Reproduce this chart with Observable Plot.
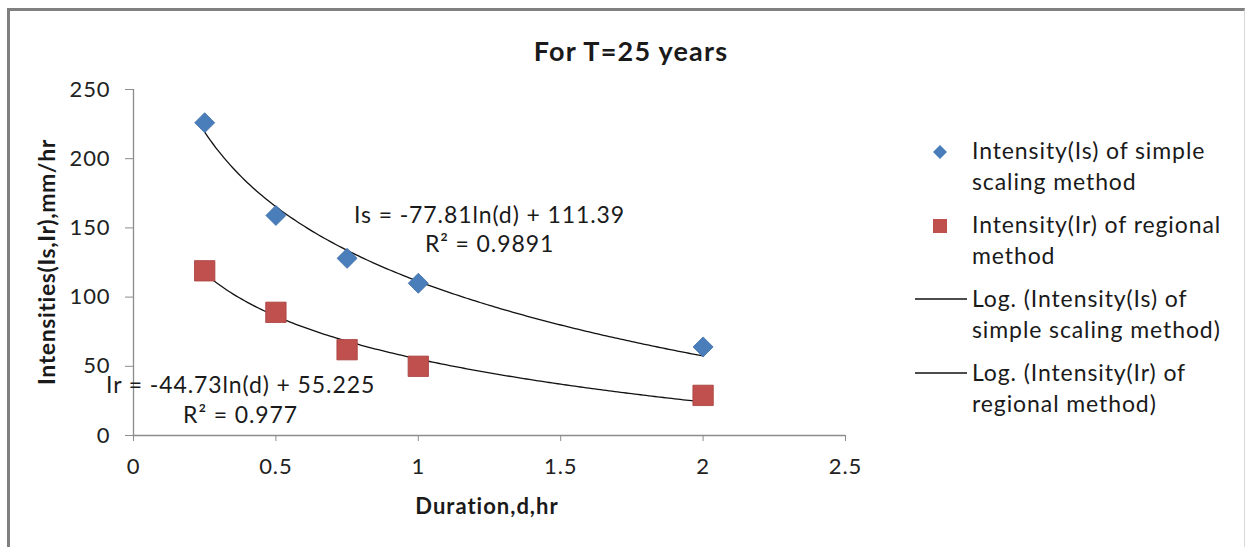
<!DOCTYPE html>
<html>
<head>
<meta charset="utf-8">
<script src="https://cdn.jsdelivr.net/npm/d3@7"></script>
<script src="https://cdn.jsdelivr.net/npm/@observablehq/plot@0.6"></script>
<style>
  html, body { margin: 0; padding: 0; background: #fff; }
  #wrap { position: relative; width: 1255px; height: 547px; overflow: hidden; font-family: Lato, "Open Sans", sans-serif; color: #1a1a1a; }
  #wrap svg.plot { position: absolute; left: 0; top: 0; }
  #wrap svg.plot text { letter-spacing: 0.9px; }
  .frame { position: absolute; left: 7px; top: 8px; width: 1238px; height: 560px; border-left: 3px solid #808080; border-top: 3px solid #808080; border-right: 1px solid #d8d8d8; box-sizing: border-box; }
  .title { position: absolute; left: 0; width: 1262px; top: 34px; text-align: center; font-weight: bold; font-size: 27px; letter-spacing: 1.2px; }
  .ylabel { position: absolute; left: 46px; top: 262px; transform: translate(-50%, -50%) rotate(-90deg); white-space: nowrap; font-weight: bold; font-size: 23px; letter-spacing: 0.6px; }
  .xlabel { position: absolute; left: 487px; top: 505px; transform: translate(-50%, -50%); white-space: nowrap; font-weight: bold; font-size: 22px; letter-spacing: 1px; }
  .legend { position: absolute; left: 905px; top: 135px; font-size: 23px; line-height: 31px; letter-spacing: 0.9px; }
  .legend .item { position: relative; padding-left: 67px; margin-bottom: 12px; white-space: nowrap; }
  .legend .key { position: absolute; left: 0; width: 62px; height: 31px; top: 0; }
  .legend .key svg { display: block; }
</style>
</head>
<body>
<div id="wrap">
  <div class="frame"></div>
  <div class="title">For T=25 years</div>
  <div class="ylabel">Intensities(Is,Ir),mm/hr</div>
  <div class="xlabel">Duration,d,hr</div>
  <div class="legend" id="legend"></div>
</div>
<script>
// Rainfall intensity vs. duration, return period T = 25 years
const durations = [0.25, 0.5, 0.75, 1, 2];
const intensitySimple = [226, 159, 128, 110, 64];   // Is, simple scaling method
const intensityRegional = [119, 89, 62, 50, 29];    // Ir, regional method

// Logarithmic trendlines  I = a·ln(d) + b
const fitSimple = {a: -77.81, b: 111.39, r2: "0.9891", b_text: "111.39"};
const fitRegional = {a: -44.73, b: 55.225, r2: "0.977", b_text: "55.225"};

const xTicks = [0, 0.5, 1, 1.5, 2, 2.5];
const yTicks = [0, 50, 100, 150, 200, 250];

const seriesNames = [
  "Intensity(Is) of simple scaling method",
  "Intensity(Ir) of regional method",
  "Log. (Intensity(Is) of simple scaling method)",
  "Log. (Intensity(Ir) of regional method)"
];
const legendLines = [
  ["Intensity(Is) of simple", "scaling method"],
  ["Intensity(Ir) of regional", "method"],
  ["Log. (Intensity(Is) of", "simple scaling method)"],
  ["Log. (Intensity(Ir) of", "regional method)"]
];

const blue = "#4a7ebb";
const red = "#c0504d";

// Excel-style diamond: a square turned 45°, sized by area like Plot's symbols
const excelDiamond = {
  draw(context, size) {
    const s = Math.sqrt(size / 2);
    context.moveTo(0, -s);
    context.lineTo(s, 0);
    context.lineTo(0, s);
    context.lineTo(-s, 0);
    context.closePath();
  }
};

const pointsSimple = durations.map((d, i) => ({d, v: intensitySimple[i]}));
const pointsRegional = durations.map((d, i) => ({d, v: intensityRegional[i]}));

// Trendline curves evaluated from the fitted equations over the data range
const dMin = d3.min(durations), dMax = d3.max(durations);
const curveX = d3.range(0, 176).map(k => dMin + (dMax - dMin) * k / 175);
const trend = fit => curveX.map(d => ({d, v: fit.a * Math.log(d) + fit.b}));

const eqText = (name, fit) =>
  `${name} = ${fit.a}ln(d) + ${fit.b_text}\nR² = ${fit.r2}`;

const chart = Plot.plot({
  width: 1255,
  height: 547,
  marginLeft: 133,
  marginRight: 410,
  marginTop: 89,
  marginBottom: 112,
  style: {fontFamily: "Lato, 'Open Sans', sans-serif", fontSize: "22px", color: "#1a1a1a", background: "transparent"},
  x: {domain: [0, 2.5]},
  y: {domain: [0, 250]},
  marks: [
    Plot.ruleY([0], {stroke: "#8c8c8c", strokeWidth: 1.3}),
    Plot.ruleX([0], {stroke: "#8c8c8c", strokeWidth: 1.3}),
    Plot.axisX({ticks: xTicks, tickSize: 6, tickPadding: 17, stroke: "#8c8c8c", fill: "#222", label: null, tickFormat: d => String(d)}),
    Plot.axisY({ticks: yTicks, tickSize: 8, tickPadding: 15, stroke: "#8c8c8c", fill: "#222", label: null}),
    Plot.line(trend(fitSimple), {x: "d", y: "v", stroke: "#111", strokeWidth: 1.3}),
    Plot.line(trend(fitRegional), {x: "d", y: "v", stroke: "#111", strokeWidth: 1.3}),
    Plot.dot(pointsSimple, {x: "d", y: "v", symbol: excelDiamond, r: 8, fill: blue, stroke: "#3f6fa8", strokeWidth: 0.8}),
    Plot.dot(pointsRegional, {x: "d", y: "v", symbol: "square", r: 11.5, fill: red, stroke: "#a8403d", strokeWidth: 0.8}),
    Plot.text([eqText("Is", fitSimple)], {x: 1.25, y: 150, text: d => d, textAnchor: "middle", lineHeight: 1.3, fontSize: 23, fill: "#1a1a1a"}),
    Plot.text([eqText("Ir", fitRegional)], {x: 0.376, y: 26.5, text: d => d, textAnchor: "middle", lineHeight: 1.3, fontSize: 23, fill: "#1a1a1a"})
  ]
});
chart.classList.add("plot");
document.getElementById("wrap").insertBefore(chart, document.querySelector(".title"));

// Legend entries: marker keys for the two series, line keys for the trendlines
const legend = d3.select("#legend");
seriesNames.forEach((name, i) => {
  const item = legend.append("div").attr("class", "item").attr("title", name);
  const key = item.append("div").attr("class", "key")
    .append("svg").attr("width", 62).attr("height", 31);
  if (i === 0) {
    key.append("path").attr("d", "M35,10 L42,17 L35,24 L28,17 Z").attr("fill", blue);
  } else if (i === 1) {
    key.append("rect").attr("x", 28).attr("y", 10).attr("width", 14).attr("height", 14).attr("fill", red);
  } else {
    key.append("line").attr("x1", 10).attr("x2", 62).attr("y1", 16).attr("y2", 16)
      .attr("stroke", "#111").attr("stroke-width", 1.3);
  }
  legendLines[i].forEach(t => item.append("div").text(t));
});
</script>
</body>
</html>
